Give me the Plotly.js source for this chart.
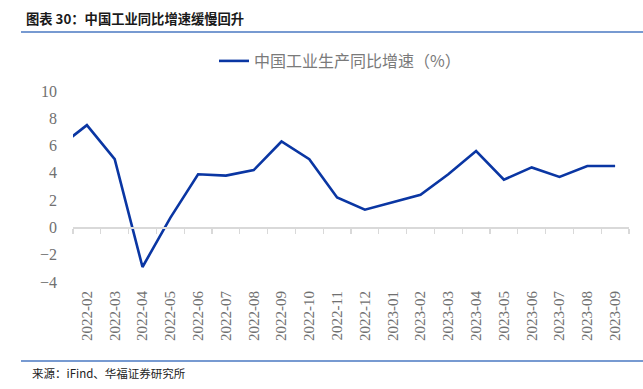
<!DOCTYPE html>
<html>
<head>
<meta charset="utf-8">
<script src="https://cdn.plot.ly/plotly-3.0.1.min.js"></script>
<style>html,body{margin:0;padding:0;background:#fff;}#chart{width:643px;height:389px;}</style>
</head>
<body>
<div id="chart"></div>
<script>
// Months (the first, 2022-01, lies just outside the visible range; only its segment toward 2022-02 shows)
const months = ["2022-01","2022-02","2022-03","2022-04","2022-05","2022-06","2022-07","2022-08","2022-09","2022-10","2022-11","2022-12","2023-01","2023-02","2023-03","2023-04","2023-05","2023-06","2023-07","2023-08","2023-09"];
const growth = [5.9, 7.5, 5.0, -2.9, 0.7, 3.9, 3.8, 4.2, 6.3, 5.0, 2.2, 1.3, 1.85, 2.4, 3.9, 5.6, 3.5, 4.4, 3.7, 4.5, 4.5];
const seriesName = "中国工业生产同比增速（%）";
const chartTitle = "图表 30：中国工业同比增速缓慢回升";
const sourceText = "来源：iFind、华福证券研究所";
const yTicks = [-4, -2, 0, 2, 4, 6, 8, 10];

const W = 643, H = 389;
const L = 73, R = 629, T = 91, B = 282;
const px = x => (x - L) / (R - L);
const py = y => (B - y) / (B - T);
const yMin = -4, yMax = 10;

const trace = {
  type: "scatter", mode: "lines",
  x: months, y: growth, name: seriesName,
  line: {color: "#0a36a3", width: 2.6},
  hoverinfo: "skip"
};

const layout = {
  width: W, height: H,
  margin: {l: L, r: W - R, t: T, b: H - B},
  paper_bgcolor: "#fff", plot_bgcolor: "#fff",
  showlegend: true,
  legend: {
    orientation: "h", x: px(214), xanchor: "left", xref: "paper",
    y: 1 - 44/H, yref: "container", yanchor: "top",
    font: {family: "Noto Sans CJK SC", size: 16, color: "#7a7a7a"},
    itemwidth: 30
  },
  xaxis: {
    type: "category", range: [0.5, months.length - 0.5],
    showline: false, ticks: "", showgrid: false, zeroline: false,
    tickangle: -90, ticklabelstandoff: 5,
    tickfont: {family: "Liberation Serif", size: 15, color: "#707070"}
  },
  xaxis2: {
    overlaying: "x", anchor: "free", position: (0 - yMin) / (yMax - yMin),
    type: "linear", range: [0.5, months.length - 0.5],
    tick0: 0.5, dtick: 1, showticklabels: false,
    showline: true, linecolor: "#d9d9d9", linewidth: 1.5,
    ticks: "outside", ticklen: 5, tickcolor: "#d9d9d9", tickwidth: 1.2,
    showgrid: false, zeroline: false
  },
  yaxis: {
    range: [yMin, yMax], tickvals: yTicks,
    showline: false, ticks: "", showgrid: false, zeroline: false,
    ticklabelstandoff: 15,
    tickfont: {family: "Liberation Serif", size: 16, color: "#707070"}
  },
  shapes: [
    {type: "line", xref: "paper", yref: "paper", x0: px(21), x1: px(643), y0: py(32), y1: py(32), line: {color: "#4a78c2", width: 1.5}},
    {type: "line", xref: "paper", yref: "paper", x0: px(21), x1: px(643), y0: py(361), y1: py(361), line: {color: "#4a78c2", width: 1.5}}
  ],
  annotations: [
    {text: "<b>" + chartTitle + "</b>", xref: "paper", yref: "paper", x: px(24), y: py(18), xanchor: "left", yanchor: "middle", showarrow: false,
     font: {family: "Noto Sans CJK SC", size: 13.3, color: "#1a1a1a"}},
    {text: sourceText, xref: "paper", yref: "paper", x: px(30), y: py(373), xanchor: "left", yanchor: "middle", showarrow: false,
     font: {family: "Noto Sans CJK SC", size: 11.5, color: "#222"}}
  ]
};

// invisible helper trace to bind xaxis2
const helper = {type: "scatter", mode: "lines", x: [0.5, months.length - 0.5], y: [null, null], xaxis: "x2", yaxis: "y", showlegend: false, hoverinfo: "skip"};

Plotly.newPlot("chart", [trace, helper], layout, {displayModeBar: false, staticPlot: true});
</script>
</body>
</html>
